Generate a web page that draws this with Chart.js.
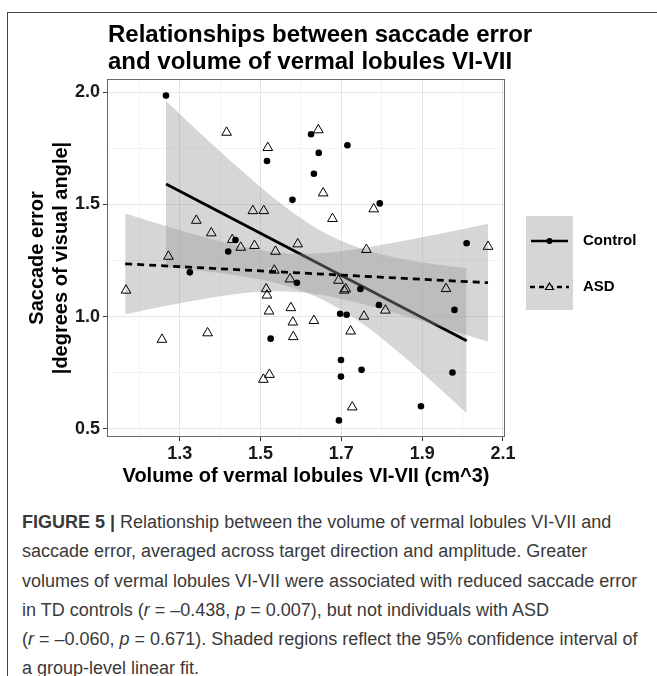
<!DOCTYPE html>
<html>
<head>
<meta charset="utf-8">
<script src="https://cdn.jsdelivr.net/npm/chart.js@4.4.1/dist/chart.umd.min.js"></script>
<style>
  body { margin: 0; background: #fff; width: 657px; height: 676px; overflow: hidden; position: relative; font-family: 'Liberation Sans', Arial, sans-serif; }
  #frame { position: absolute; left: 7px; top: 12px; right: -2px; bottom: -2px; border-left: 1px solid #444; border-top: 1px solid #444; }
  #plot { position: absolute; left: 0; top: 0; width: 657px; height: 500px; }
  #caption { position: absolute; left: 22px; top: 508px; font-size: 18px; line-height: 29.3px; color: #3a3a3a; white-space: nowrap; }
</style>
</head>
<body>
<div id="frame"></div>
<div id="plot"><canvas id="chart"></canvas></div>
<div id="caption">
<b>FIGURE 5 |</b> Relationship between the volume of vermal lobules VI-VII and<br>
saccade error, averaged across target direction and amplitude. Greater<br>
volumes of vermal lobules VI-VII were associated with reduced saccade error<br>
in TD controls (<i>r</i> = –0.438, <i>p</i> = 0.007), but not individuals with ASD<br>
(<i>r</i> = –0.060, <i>p</i> = 0.671). Shaded regions reflect the 95% confidence interval of<br>
a group-level linear fit.
</div>
<script>
// points (volume cm^3, saccade error deg)
const controlX = [1.266, 1.516, 1.579, 1.625, 1.715, 1.644, 1.632, 1.795, 2.010, 1.438, 1.420, 1.325, 1.590,
                  1.525, 1.747, 1.793, 1.980, 1.697, 1.713, 1.699, 1.699, 1.750, 1.975, 1.897, 1.694];
const controlY = [1.984, 1.693, 1.520, 1.812, 1.763, 1.729, 1.636, 1.504, 1.327, 1.341, 1.290, 1.197, 1.151,
                  0.902, 1.123, 1.052, 1.030, 1.013, 1.008, 0.807, 0.733, 0.763, 0.751, 0.601, 0.538];

const asdX = [1.416, 1.518, 1.481, 1.508, 1.341, 1.378, 1.430, 1.451, 1.485, 1.537, 1.592, 1.272, 1.643, 1.655,
              1.678, 1.780, 1.762, 2.063, 1.167, 1.534, 1.573, 1.514, 1.516, 1.521, 1.575, 1.580, 1.581, 1.256,
              1.369, 1.522, 1.507, 1.632, 1.693, 1.707, 1.711, 1.809, 1.959, 1.756, 1.723, 1.727];
const asdY = [1.820, 1.752, 1.471, 1.471, 1.428, 1.372, 1.342, 1.308, 1.316, 1.290, 1.323, 1.268, 1.831, 1.550,
              1.436, 1.479, 1.298, 1.312, 1.117, 1.206, 1.167, 1.123, 1.095, 1.024, 1.039, 0.975, 0.910, 0.898,
              0.927, 0.742, 0.720, 0.982, 1.161, 1.117, 1.123, 1.028, 1.124, 1.001, 0.935, 0.597];

// fitted lines and their 95% bands, read at a few x positions
const controlFitX = [1.266, 2.010];
const controlFitY = [1.590, 0.893];
const asdFitX = [1.165, 2.063];
const asdFitY = [1.235, 1.151];

const controlBandX  = [1.266, 1.35, 1.45, 1.55, 1.65, 1.75, 1.85, 1.95, 2.010];
const controlBandHi = [1.960, 1.818, 1.655, 1.504, 1.381, 1.302, 1.257, 1.229, 1.216];
const controlBandLo = [1.220, 1.204, 1.181, 1.144, 1.079, 0.972, 0.829, 0.669, 0.570];

const asdBandX  = [1.165, 1.30, 1.45, 1.525, 1.60, 1.675, 1.75, 1.90, 2.063];
const asdBandHi = [1.459, 1.385, 1.313, 1.289, 1.280, 1.286, 1.304, 1.353, 1.414];
const asdBandLo = [1.011, 1.060, 1.103, 1.113, 1.108, 1.088, 1.057, 0.980, 0.888];

const xGrid = [1.2, 1.3, 1.4, 1.5, 1.6, 1.7, 1.8, 1.9, 2.0, 2.1];
const xTickLabels = ['1.3', '1.5', '1.7', '1.9', '2.1'];
const yGrid = [0.5, 0.75, 1.0, 1.25, 1.5, 1.75, 2.0];
const yTickLabels = ['0.5', '1.0', '1.5', '2.0'];

const titleLines = ['Relationships between saccade error', 'and volume of vermal lobules VI-VII'];
const legendLabels = ['Control', 'ASD'];

const pts = (xs, ys) => xs.map((x, i) => ({ x: x, y: ys[i] }));
const band = 'rgba(153,153,153,0.4)';

const xMajor = v => xTickLabels.includes(v.toFixed(1));
const yMajor = v => Number.isInteger(Math.round(v * 100) / 50);

// title, panel border + legend key (ggplot style)
const panelLegend = {
  id: 'panelLegend',
  afterDraw(chart) {
    const ctx = chart.ctx, a = chart.chartArea;
    ctx.save();
    ctx.fillStyle = '#000';
    ctx.font = 'bold 24px "Liberation Sans", Arial, sans-serif';
    ctx.textBaseline = 'middle';
    ctx.fillText(titleLines[0], a.left + 1, 35);
    ctx.fillText(titleLines[1], a.left + 1, 62);

    ctx.strokeStyle = '#666';
    ctx.lineWidth = 1;
    ctx.strokeRect(a.left + 0.5, a.top + 0.5, a.right - a.left - 1, a.bottom - a.top - 1);

    ctx.fillStyle = '#d6d6d6';
    ctx.fillRect(526, 216, 47, 94);

    ctx.strokeStyle = '#000';
    ctx.lineWidth = 2.6;
    ctx.beginPath(); ctx.moveTo(531, 241); ctx.lineTo(568, 241); ctx.stroke();
    ctx.fillStyle = '#000';
    ctx.beginPath(); ctx.arc(549.5, 241, 3, 0, Math.PI * 2); ctx.fill();

    ctx.setLineDash([5, 4]);
    ctx.beginPath(); ctx.moveTo(530, 287); ctx.lineTo(569, 287); ctx.stroke();
    ctx.setLineDash([]);
    ctx.lineWidth = 1.2;
    ctx.beginPath();
    ctx.moveTo(549.5, 283); ctx.lineTo(553.5, 289.5); ctx.lineTo(545.5, 289.5); ctx.closePath();
    ctx.fillStyle = '#d6d6d6';
    ctx.fill(); ctx.stroke();

    ctx.fillStyle = '#000';
    ctx.font = 'bold 15px "Liberation Sans", Arial, sans-serif';
    ctx.fillText(legendLabels[0], 583, 241);
    ctx.fillText(legendLabels[1], 583, 287);
    ctx.restore();
  }
};

new Chart(document.getElementById('chart'), {
  type: 'scatter',
  data: {
    datasets: [
      { type: 'line', data: pts(controlBandX, controlBandHi), borderWidth: 0, borderColor: 'transparent',
        pointRadius: 0, cubicInterpolationMode: 'monotone', fill: false, order: 9 },
      { type: 'line', data: pts(controlBandX, controlBandLo), borderWidth: 0, borderColor: 'transparent',
        pointRadius: 0, cubicInterpolationMode: 'monotone', fill: '-1', backgroundColor: band, order: 8 },
      { type: 'line', data: pts(controlFitX, controlFitY), borderColor: '#000', borderWidth: 2.8,
        pointRadius: 0, fill: false, order: 7 },
      { type: 'line', data: pts(asdBandX, asdBandHi), borderWidth: 0, borderColor: 'transparent',
        pointRadius: 0, cubicInterpolationMode: 'monotone', fill: false, order: 6 },
      { type: 'line', data: pts(asdBandX, asdBandLo), borderWidth: 0, borderColor: 'transparent',
        pointRadius: 0, cubicInterpolationMode: 'monotone', fill: '-1', backgroundColor: band, order: 5 },
      { type: 'line', data: pts(asdFitX, asdFitY), borderColor: '#000', borderWidth: 2.8,
        borderDash: [7, 5], pointRadius: 0, fill: false, order: 4 },
      { label: legendLabels[0], data: pts(controlX, controlY), pointStyle: 'circle', pointRadius: 3.3,
        backgroundColor: '#000', borderColor: '#000', borderWidth: 0, order: 2 },
      { label: legendLabels[1], data: pts(asdX, asdY), pointStyle: 'triangle', pointRadius: 5.6,
        backgroundColor: 'rgba(0,0,0,0)', borderColor: '#000', borderWidth: 1, order: 1 }
    ]
  },
  options: {
    responsive: true,
    maintainAspectRatio: false,
    animation: false,
    layout: { padding: { left: 0, right: 152, top: 79, bottom: 0 } },
    plugins: {
      legend: { display: false },
      tooltip: { enabled: false },
      title: { display: false }
    },
    scales: {
      x: {
        type: 'linear', min: 1.12, max: 2.105,
        afterBuildTicks: s => { s.ticks = xGrid.map(v => ({ value: v })); },
        afterFit: s => { s.height = 63; },
        ticks: {
          autoSkip: false, maxRotation: 0, padding: 2, color: '#1a1a1a',
          font: { family: 'Liberation Sans', size: 18, weight: 'bold' },
          callback: v => xMajor(v) ? v.toFixed(1) : ''
        },
        grid: {
          color: c => xMajor(c.tick.value) ? '#e5e5e5' : '#f3f3f3',
          tickColor: c => xMajor(c.tick.value) ? '#333' : 'rgba(0,0,0,0)',
          tickLength: 4, lineWidth: 1
        },
        border: { display: false },
        title: {
          display: true, text: 'Volume of vermal lobules VI-VII (cm^3)', color: '#000',
          font: { family: 'Liberation Sans', size: 20, weight: 'bold' },
          padding: { top: 0, bottom: 12 }
        }
      },
      y: {
        type: 'linear', min: 0.464, max: 2.058,
        afterBuildTicks: s => { s.ticks = yGrid.map(v => ({ value: v })); },
        afterFit: s => { s.width = 107; },
        ticks: {
          autoSkip: false, padding: 3, color: '#1a1a1a',
          font: { family: 'Liberation Sans', size: 18, weight: 'bold' },
          callback: v => yMajor(v) ? v.toFixed(1) : ''
        },
        grid: {
          color: c => yMajor(c.tick.value) ? '#e5e5e5' : '#f3f3f3',
          tickColor: c => yMajor(c.tick.value) ? '#333' : 'rgba(0,0,0,0)',
          tickLength: 4, lineWidth: 1
        },
        border: { display: false },
        title: {
          display: true, text: ['Saccade error', '|degrees of visual angle|'], color: '#000',
          font: { family: 'Liberation Sans', size: 20, weight: 'bold' },
          padding: { top: 25, bottom: 0 }
        }
      }
    }
  },
  plugins: [panelLegend]
});
</script>
</body>
</html>
